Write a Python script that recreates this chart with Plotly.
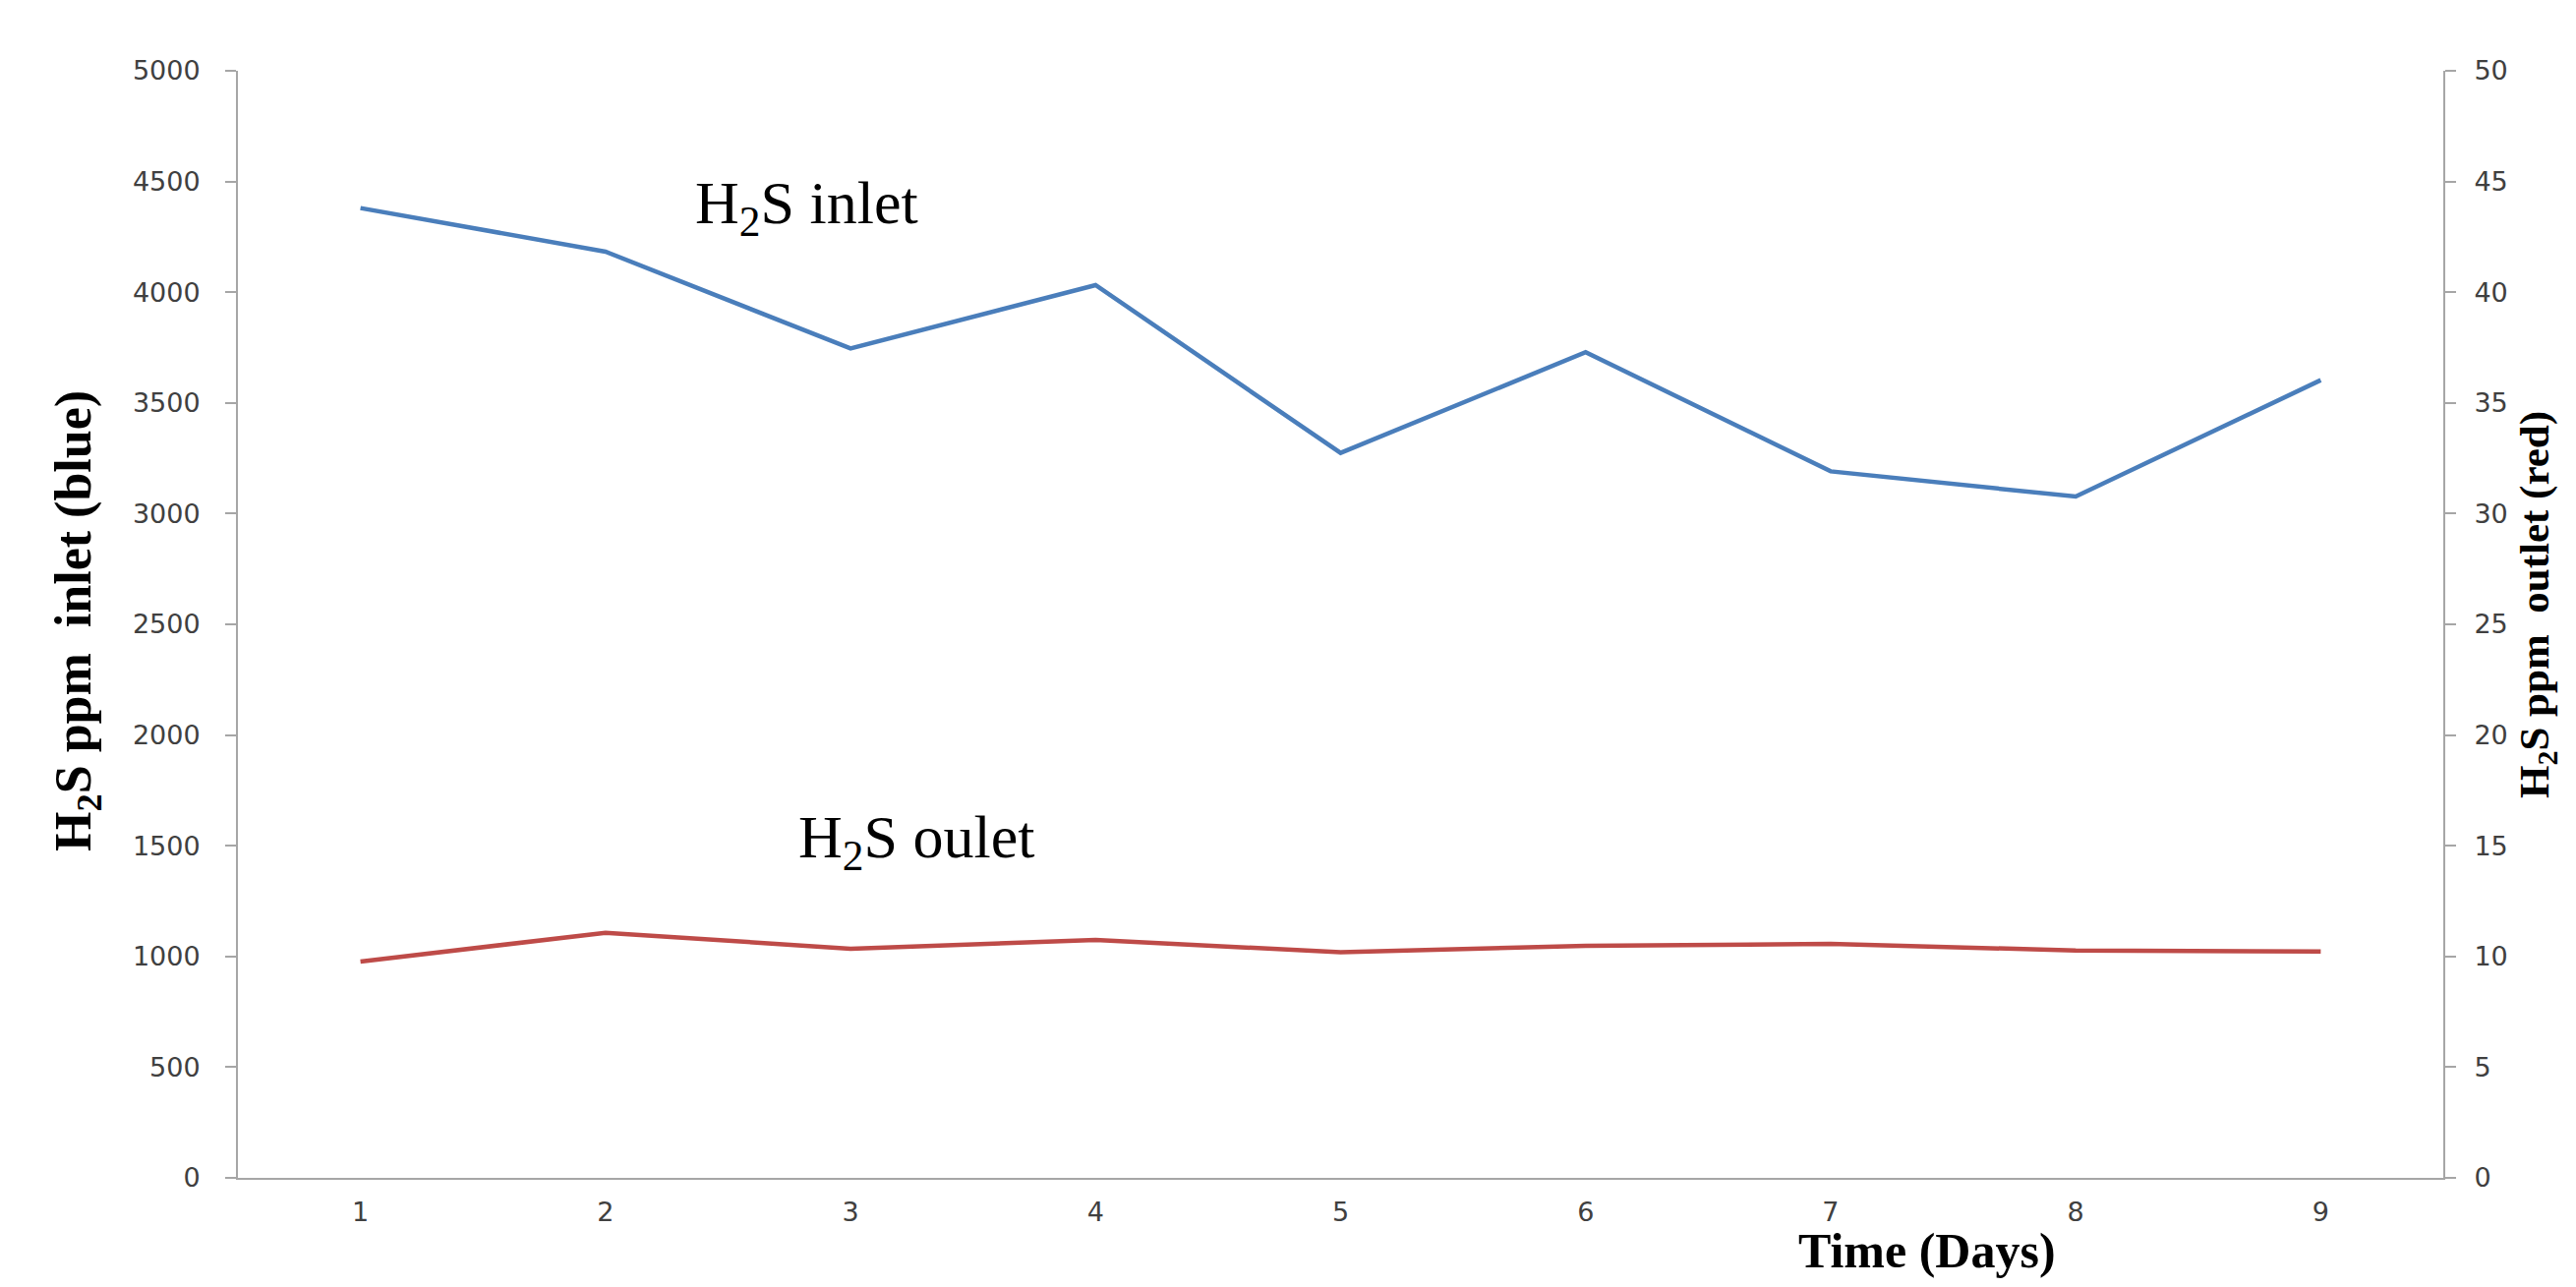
import plotly.graph_objects as go

days = [1, 2, 3, 4, 5, 6, 7, 8, 9]
inlet_ppm = [4380, 4183, 3746, 4032, 3274, 3729, 3191, 3077, 3603]
outlet_ppm = [9.77, 11.07, 10.35, 10.75, 10.19, 10.48, 10.57, 10.27, 10.22]

left_ticks = list(range(0, 5001, 500))
right_ticks = list(range(0, 51, 5))

AXIS_GRAY = "#a6a6a6"
TICK_FONT = dict(family="DejaVu Sans", size=27, color="#404040")
SERIF = "Liberation Serif"

fig = go.Figure()
fig.add_trace(go.Scatter(x=days, y=inlet_ppm, mode="lines", name="H2S inlet",
                         line=dict(color="#4a7ebb", width=4.5), yaxis="y"))
fig.add_trace(go.Scatter(x=days, y=outlet_ppm, mode="lines", name="H2S outlet",
                         line=dict(color="#be4b48", width=4.5), yaxis="y2"))

fig.update_layout(
    width=2604, height=1293,
    margin=dict(l=234, r=127, t=64, b=103),
    paper_bgcolor="white", plot_bgcolor="white",
    showlegend=False,
    xaxis=dict(range=[0.5, 9.5], tickvals=days, ticktext=[str(d) for d in days],
               showline=True, linecolor=AXIS_GRAY, linewidth=2,
               ticks="", showgrid=False, zeroline=False,
               tickfont=TICK_FONT, ticklabelstandoff=10),
    yaxis=dict(range=[0, 5000], tickvals=left_ticks,
               showline=True, linecolor=AXIS_GRAY, linewidth=2,
               ticks="outside", ticklen=11, tickcolor=AXIS_GRAY, tickwidth=2,
               showgrid=False, zeroline=False,
               tickfont=TICK_FONT, ticklabelstandoff=20),
    yaxis2=dict(range=[0, 50], tickvals=right_ticks, overlaying="y", side="right",
                showline=True, linecolor=AXIS_GRAY, linewidth=2,
                ticks="outside", ticklen=11, tickcolor=AXIS_GRAY, tickwidth=2,
                showgrid=False, zeroline=False,
                tickfont=TICK_FONT, ticklabelstandoff=13),
    annotations=[
        dict(text="H<sub>2</sub>S inlet", x=2.82, y=4383, xref="x", yref="y",
             showarrow=False, font=dict(family=SERIF, size=62, color="black"),
             xanchor="center", yanchor="middle"),
        dict(text="H<sub>2</sub>S oulet", x=3.27, y=1519, xref="x", yref="y",
             showarrow=False, font=dict(family=SERIF, size=62, color="black"),
             xanchor="center", yanchor="middle"),
        dict(text="<b>H<sub>2</sub>S ppm\u00a0 inlet (blue)</b>", x=-0.073, y=0.503,
             xref="paper", yref="paper", textangle=-90, showarrow=False,
             font=dict(family=SERIF, size=52, color="black"),
             xanchor="center", yanchor="middle"),
        dict(text="<b>H<sub>2</sub>S ppm\u00a0 outlet (red)</b>", x=1.0425, y=0.518,
             xref="paper", yref="paper", textangle=-90, showarrow=False,
             font=dict(family=SERIF, size=43, color="black"),
             xanchor="center", yanchor="middle"),
        dict(text="<b>Time (Days)</b>", x=0.766, y=-0.066,
             xref="paper", yref="paper", showarrow=False,
             font=dict(family=SERIF, size=50, color="black"),
             xanchor="center", yanchor="middle"),
    ],
)

fig.write_html("out.html")
